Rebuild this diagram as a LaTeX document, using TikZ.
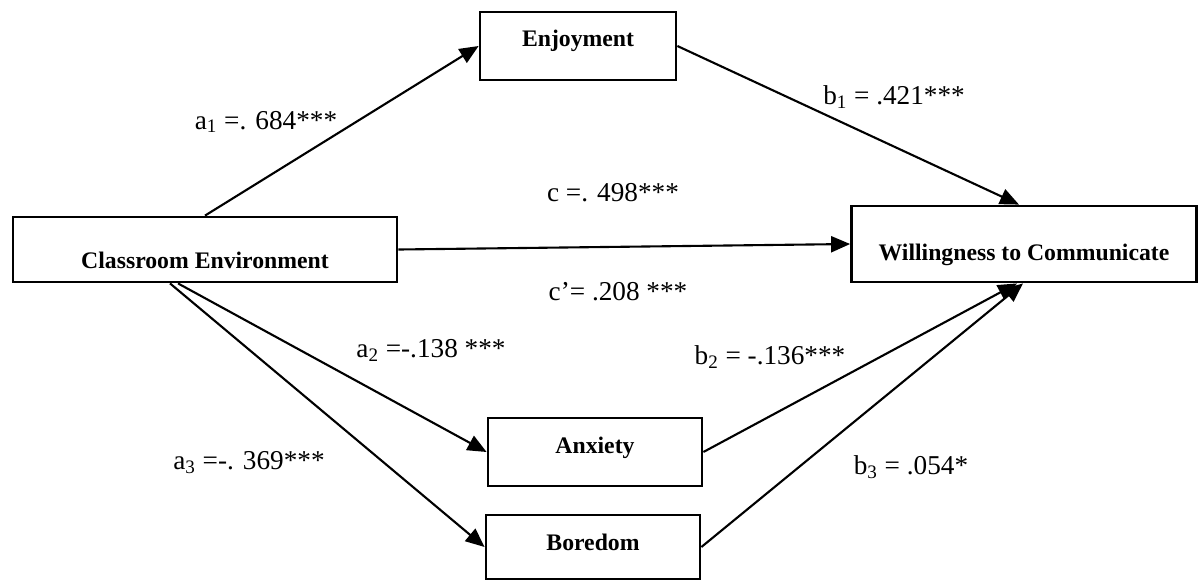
\documentclass[tikz,border=0pt]{standalone}
\usepackage{fontspec}
\setmainfont{Liberation Serif}
\usetikzlibrary{arrows.meta,positioning}

\begin{document}
\begin{tikzpicture}[x=0.02cm,y=-0.02cm,
    box/.style={draw,line width=1.6pt,inner sep=0pt,anchor=base,font=\fontsize{13.5}{16}\selectfont\bfseries},
    path/.style={line width=1.2pt,-{Triangle[length=0.38cm,width=0.32cm]}},
    coef/.style={font=\fontsize{15.5}{18}\selectfont}]
  \useasboundingbox (0,0) rectangle (1199,582);

  \node[box,minimum width=7.68cm,text height=1.02cm,text depth=0.28cm] (ce) at (205,268) {Classroom Environment};
  \node[box,minimum width=6.9cm,text height=1.08cm,text depth=0.44cm] (wtc) at (1024,260) {Willingness to Communicate};
  \node[box,minimum width=3.92cm,text height=0.68cm,text depth=0.68cm] (enj) at (578,46) {Enjoyment};
  \node[box,minimum width=4.28cm,text height=0.70cm,text depth=0.66cm] (anx) at (595,453) {Anxiety};
  \node[box,minimum width=4.28cm,text height=0.70cm,text depth=0.58cm] (bor) at (593,550) {Boredom};

  \draw[path] (ce.north) -- (enj.west);
  \draw[path] (enj.east) -- ([xshift=-0.1cm]wtc.north);
  \draw[path] (ce.east) -- (wtc.west);
  \draw[path] ([xshift=-0.54cm]ce.south) -- (anx.west);
  \draw[path] ([xshift=-0.7cm]ce.south) -- (bor.west);
  \draw[path] (anx.east) -- ([xshift=-0.14cm]wtc.south);
  \draw[path] (bor.east) -- ([xshift=-0.02cm]wtc.south);

  \node[coef] (a1) at (266,122) {a\textsubscript{1} =. 684***};
  \node[coef] (b1) at (894,97) {b\textsubscript{1} = .421***};
  \node[coef] (c) at (613,193) {c =. 498***};
  \node[coef] (cp) at (618,292) {c’= .208 ***};
  \node[coef] (a2) at (431,350) {a\textsubscript{2} =-.138 ***};
  \node[coef] (b2) at (770,357) {b\textsubscript{2} = -.136***};
  \node[coef] (a3) at (249,463) {a\textsubscript{3} =-. 369***};
  \node[coef] (b3) at (911,467) {b\textsubscript{3} = .054*};
\end{tikzpicture}
\end{document}
